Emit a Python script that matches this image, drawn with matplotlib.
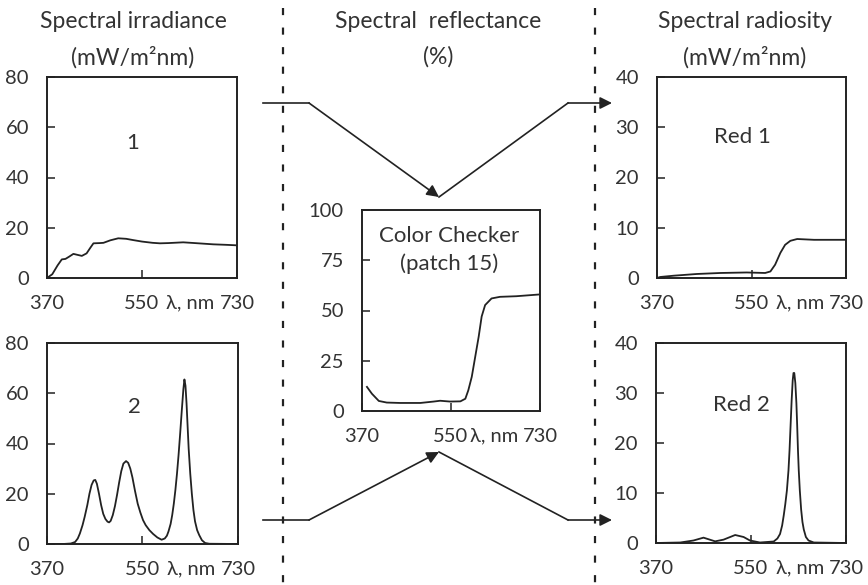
import matplotlib
matplotlib.use('Agg')
import matplotlib.pyplot as plt

plt.rcParams['font.family'] = ['Lato', 'DejaVu Sans']

# ---- data ----
irr1_wl = [370, 380, 390, 398, 405, 412, 420, 428, 436, 445, 452, 458, 470, 477,
           490, 505, 520, 533, 550, 570, 584, 600, 628, 650, 685, 710, 730]
irr1_val = [0, 1.5, 5, 7.4, 7.6, 8.5, 9.6, 9.2, 8.8, 9.8, 12, 13.8, 13.9, 14,
            15, 15.8, 15.6, 15.1, 14.5, 14, 13.8, 13.9, 14.2, 13.9, 13.4, 13.2, 13.0]

irr2_wl = [370, 400, 415, 423, 428, 432, 437, 441, 446, 450, 454, 458, 461, 464,
           468, 472, 476, 480, 484, 487, 490, 494, 498, 502, 506, 510, 514, 519,
           523, 527, 531, 536, 541, 546, 551, 556, 563, 570, 578, 586, 592, 596,
           599, 603, 606, 609, 612, 615, 618, 621, 624, 627, 629, 631, 633, 635,
           637, 640, 643, 646, 649, 653, 657, 662, 668, 676, 730]
irr2_val = [0, 0, 0.2, 0.8, 2.2, 4.2, 7.5, 10.8, 15.5, 20, 23.5, 25.3, 25.5, 24,
            20, 15.5, 12, 10, 8.9, 8.6, 9.2, 11.5, 15, 19.5, 24.5, 29, 32, 33,
            32.3, 30, 26.5, 21, 16, 12.5, 9.5, 7.5, 5.5, 4, 2.6, 1.7, 2.2, 3.3,
            5, 8, 11.5, 16, 21.5, 28, 35.5, 44, 53, 61.5, 65.5, 63, 56, 47,
            38, 28, 20, 13.5, 9, 5.5, 3.5, 1.5, 0.4, 0.1, 0]

refl_wl = [380, 390, 404, 420, 447, 488, 515, 528, 548, 569, 579, 585, 592, 599,
           606, 612, 619, 632, 649, 682, 730]
refl_val = [12, 8.6, 5, 4.2, 4, 4, 4.7, 5.1, 4.7, 4.8, 6.1, 10.3, 17, 27,
            37, 47, 52.7, 56, 56.8, 57.1, 58]

rad1_wl = [370, 376, 402, 446, 491, 541, 576, 586, 595, 605, 614, 624, 637, 669, 706, 730]
rad1_val = [0, 0.2, 0.46, 0.8, 1.0, 1.1, 1.0, 1.3, 2.65, 5, 6.6, 7.4, 7.76, 7.6, 7.6, 7.6]

rad2_wl = [370, 416, 441, 460, 482, 498, 520, 536, 548, 567, 593, 600, 605, 609,
           612, 615, 618, 621, 623, 625, 627, 629, 630.5, 632, 634, 636, 637.5,
           639, 640.5, 642.5, 645, 647.5, 650, 654, 659, 669, 730]
rad2_val = [0, 0.1, 0.5, 1.07, 0.33, 0.67, 1.6, 1.2, 0.5, 0.1, 0.3, 0.9, 1.8, 3.5,
            5.5, 7.8, 10.5, 14.5, 18.5, 23.5, 28.5, 32.5, 34, 34, 32, 28, 23.5,
            18.5, 14.5, 10.5, 6.7, 4.2, 2.7, 1.2, 0.5, 0.1, 0]

x_ticks = [370, 550, 730]
irr_yticks = [0, 20, 40, 60, 80]
refl_yticks = [0, 25, 50, 75, 100]
rad_yticks = [0, 10, 20, 30, 40]

W, H = 868, 585
INK = '#222222'
TXT = '#333333'
FS = 14.5

fig = plt.figure(figsize=(W / 100, H / 100), dpi=100)


def px_axes(x0, y0, x1, y1):
    # axes from pixel box (top-left origin)
    return fig.add_axes([x0 / W, 1 - y1 / H, (x1 - x0) / W, (y1 - y0) / H], zorder=2)


def panel(box, wl, val, yticks, label, lab_xy, lam_x):
    ax = px_axes(*box)
    ax.plot(wl, val, color=INK, lw=1.3)
    ax.set_xlim(370, 730)
    ax.set_ylim(yticks[0], yticks[-1])
    ax.set_xticks(x_ticks)
    ax.set_xticklabels([str(t) for t in x_ticks])
    ax.set_yticks(yticks)
    ax.tick_params(direction='in', length=6, width=1.1, color=INK,
                   labelsize=FS, labelcolor=TXT)
    ax.tick_params(axis='y', pad=13)
    ax.tick_params(axis='x', pad=12)
    for s in ax.spines.values():
        s.set_color(INK)
        s.set_linewidth(1.4)
    ax.text(lab_xy[0], lab_xy[1], label, transform=ax.transAxes, ha='center',
            va='center', fontsize=16, color=TXT, linespacing=1.45)
    ax.annotate('λ, nm', xy=(lam_x, 0), xycoords=('data', 'axes fraction'),
                xytext=(0, -12), textcoords='offset points', ha='center', va='top',
                fontsize=FS, color=TXT)
    return ax


panel((47, 77, 237, 278), irr1_wl, irr1_val, irr_yticks, '1', (0.45, 0.67), 642)
panel((47, 343, 238, 544), irr2_wl, irr2_val, irr_yticks, '2', (0.46, 0.68), 642)
panel((362, 210, 540, 411), refl_wl, refl_val, refl_yticks,
      'Color Checker\n(patch 15)', (0.49, 0.80), 637)
panel((657, 77, 846, 278), rad1_wl, rad1_val, rad_yticks, 'Red 1', (0.45, 0.70), 643)
panel((656, 343, 846, 543), rad2_wl, rad2_val, rad_yticks, 'Red 2', (0.45, 0.69), 643)

# ---- overlay: headers, dashed separators, arrows (pixel coords) ----
ov = fig.add_axes([0, 0, 1, 1], zorder=1)
ov.set_xlim(0, W)
ov.set_ylim(H, 0)
ov.axis('off')

for xd in (283, 595):
    ov.plot([xd, xd], [8, H], color=INK, lw=1.6, dashes=(3.2, 5.6))

heads = [(133, 'Spectral irradiance', '(mW/m²nm)'),
         (438, 'Spectral  reflectance', '(%)'),
         (745, 'Spectral radiosity', '(mW/m²nm)')]
for xc, t1, t2 in heads:
    ov.text(xc, 22, t1, ha='center', va='center', fontsize=16.5, color=TXT)
    ov.text(xc, 57, t2, ha='center', va='center', fontsize=16.5, color=TXT)

arrow_kw = dict(arrowstyle='-|>', color=INK, lw=1.2, mutation_scale=18,
                shrinkA=0, shrinkB=0)
for ya, yb in ((103, 197), (520, 452)):
    ov.plot([263, 309], [ya, ya], color=INK, lw=1.2)
    ov.annotate('', xy=(439, yb), xytext=(309, ya), arrowprops=arrow_kw)
    ov.plot([439, 568], [yb, ya], color=INK, lw=1.2)
    ov.annotate('', xy=(612, ya), xytext=(568, ya), arrowprops=arrow_kw)

fig.savefig('out.png', dpi=100)
